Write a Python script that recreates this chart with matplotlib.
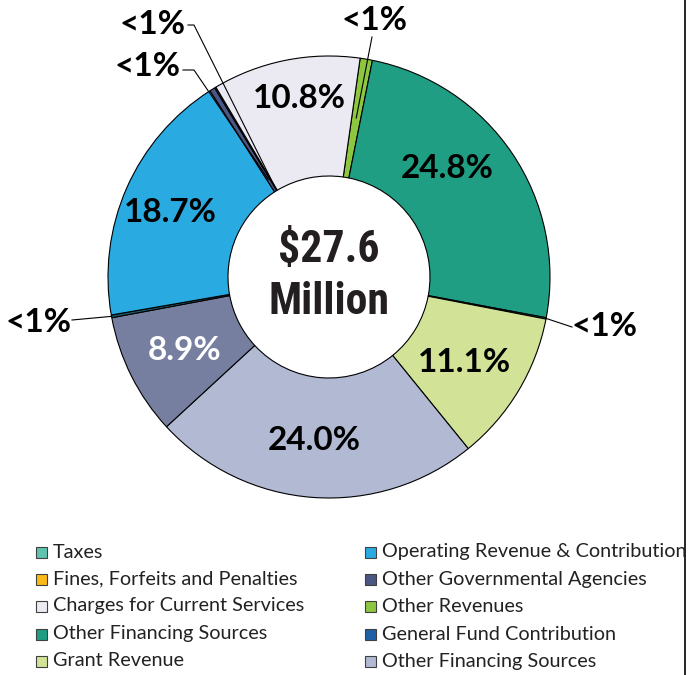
import numpy as np
import matplotlib
matplotlib.use("Agg")
import matplotlib.pyplot as plt
from matplotlib import font_manager
from matplotlib.lines import Line2D
from matplotlib.patches import Rectangle

W, H = 688, 675

# slices, clockwise from the top
slice_values = [0.9, 24.8, 0.1, 11.1, 24.0, 8.9, 0.2, 18.7, 0.4, 0.1, 10.8]
slice_colors = ["#8dc63f", "#1f9e83", "#5fc4ae", "#d2e397", "#b1b9d3", "#777fa1",
                "#1c5a6a", "#29abe2", "#4b5682", "#1f5fa5", "#ebeaf2"]
slice_labels = ["<1%", "24.8%", "<1%", "11.1%", "24.0%", "8.9%",
                "<1%", "18.7%", "<1%", "<1%", "10.8%"]
label_colors = ["black"] * 5 + ["white"] + ["black"] * 5
# label centres in pixels, (x, y from top)
label_pos = [(374, 20), (447, 168), (604, 327), (464, 363), (314, 440), (185, 350),
             (39, 323), (170, 213), (147, 66), (152, 25), (299, 99)]
# leader lines: slice index -> (start point px, elbow px or None, anchor radius)
leaders = {0: ((372, 37), None, 0.73),
           2: ((572, 327), None, 1.0),
           6: ((72, 320), None, 1.0),
           8: ((183, 70), (194, 70), 0.52),
           9: ((188, 25), (194, 25), 0.48)}

legend_labels = ["Taxes", "Fines, Forfeits and Penalties", "Charges for Current Services",
                 "Other Financing Sources", "Grant Revenue",
                 "Operating Revenue & Contribution", "Other Governmental Agencies",
                 "Other Revenues", "General Fund Contribution", "Other Financing Sources"]
legend_colors = ["#5fc4ae", "#fbb917", "#ebebf2", "#1f9e83", "#d2e397",
                 "#29abe2", "#4b5682", "#8dc63f", "#1f5fa5", "#b1b9d3"]

CX, CY, R = 329, 277, 221

# narrow bold face for the centre total
installed = {f.name for f in font_manager.fontManager.ttflist}
narrow = "DejaVu Sans"
for cand in ["Liberation Sans Narrow", "Roboto Condensed", "Open Sans Condensed"]:
    if cand in installed:
        narrow = cand
        break


def to_data(x, y):
    return (x - CX) / R, (CY - y) / R


def fig_frac(x, y):
    return x / W, 1 - y / H


fig = plt.figure(figsize=(W / 100, H / 100), dpi=100)
ax = fig.add_axes([(CX - R) / W, (H - CY - R) / H, 2 * R / W, 2 * R / H])
wedges, _ = ax.pie(slice_values, colors=slice_colors, startangle=90 - 8.1,
                   counterclock=False, radius=1,
                   wedgeprops=dict(width=0.543, edgecolor="black", linewidth=0.8))
ax.set_xlim(-1, 1)
ax.set_ylim(-1, 1)
ax.axis("off")

for txt, pos, col in zip(slice_labels, label_pos, label_colors):
    x, y = to_data(*pos)
    ax.text(x, y, txt, ha="center", va="center", fontsize=24, fontweight="bold",
            family="Lato", color=col, clip_on=False)

for i, (start, elbow, rr) in leaders.items():
    w = wedges[i]
    mid = np.deg2rad((w.theta1 + w.theta2) / 2)
    pts = [to_data(*start)]
    if elbow is not None:
        pts.append(to_data(*elbow))
    pts.append((rr * np.cos(mid), rr * np.sin(mid)))
    xs, ys = zip(*pts)
    ax.plot(xs, ys, color="black", linewidth=0.8, clip_on=False)

for txt, py in [("$27.6", 250), ("Million", 302)]:
    ax.text(0, to_data(0, py)[1], txt, ha="center", va="center", fontsize=31.5,
            fontweight="bold", family=narrow, fontstretch="condensed",
            color="#231f20")

# legend, two columns of five
col_x = [36, 365]
row_y = [552, 579, 606, 634, 661]
for k, (lab, col) in enumerate(zip(legend_labels, legend_colors)):
    cx = col_x[k // 5]
    ry = row_y[k % 5]
    x0, y0 = fig_frac(cx, ry + 6)
    fig.add_artist(Rectangle((x0, y0), 11 / W, 11 / H, transform=fig.transFigure,
                             facecolor=col, edgecolor="#404040", linewidth=0.8))
    tx, ty = fig_frac(cx + 17, ry)
    fig.text(tx, ty, lab, ha="left", va="center", fontsize=14.3, family="Lato",
             color="#222222")

# right border
bx, _ = fig_frac(685, 0)
fig.add_artist(Line2D([bx, bx], [0, 1], transform=fig.transFigure,
                      color="black", linewidth=1.2))

fig.savefig("out.png", dpi=100)
